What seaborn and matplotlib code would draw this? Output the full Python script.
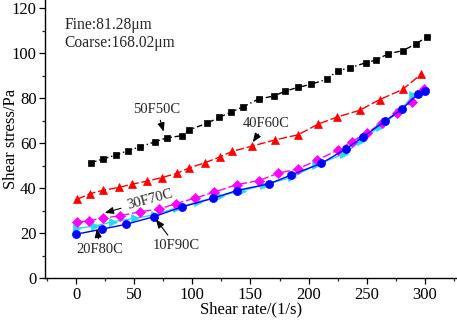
import matplotlib
matplotlib.use("Agg")
import matplotlib.pyplot as plt
import seaborn as sns
import pandas as pd
from matplotlib.ticker import MultipleLocator

# ---- data ----
x_50F50C = [13, 23, 34, 45, 55, 68, 78, 91, 97, 113, 123, 133, 144, 157, 170, 180, 191, 202, 216, 225, 236, 249, 258, 268, 281, 292, 302]
y_50F50C = [51.4, 53, 54.8, 56.8, 58.4, 60.7, 62.4, 63.4, 65.9, 69, 71.5, 73.8, 76.3, 79.7, 81, 83.2, 84.9, 86.2, 88.6, 92.3, 93.6, 95.8, 97, 99.7, 101.2, 104.1, 107.4]

x_40F60C = [1, 12, 23, 37, 48, 61, 74, 87, 97, 111, 124, 134, 151, 171, 191, 208, 224, 244, 261, 281, 297]
y_40F60C = [35.1, 37.6, 39.1, 40.4, 41.8, 43.2, 44.8, 46.7, 49, 51.4, 54, 56.4, 58.7, 61.5, 63.8, 68.5, 71.6, 74.7, 79.4, 84, 90.8]

x_30F70C = [1, 11, 23, 38, 55, 71, 86, 102, 119, 138, 157, 174, 191, 207, 225, 237, 250, 263, 276, 289, 299]
y_30F70C = [24.9, 25.6, 26.7, 27.8, 29.6, 30.7, 33.2, 35.6, 38.3, 41.6, 43.4, 46.7, 48.7, 52.4, 57, 60.7, 64.5, 69.2, 73.3, 78.5, 84]

x_20F80C = [1, 16, 32, 51, 68, 87, 105, 124, 143, 162, 186, 206, 230, 245, 261, 278, 290, 299]
y_20F80C = [22.2, 23.2, 25.2, 26.7, 28.3, 31.4, 34, 36.5, 39, 41.5, 45, 50.3, 55.2, 61, 67.4, 74, 81.5, 83]

x_10F90C = [0, 22, 43, 67, 91, 118, 138, 166, 185, 211, 232, 247, 266, 280, 294, 300]
y_10F90C = [19.6, 21.8, 24, 27.4, 31.7, 35.6, 39, 42, 45.9, 51.1, 57.5, 62.9, 70, 75.1, 81.8, 83.4]

series_names = ["50F50C", "40F60C", "30F70C", "20F80C", "10F90C"]
note_lines = ["Fine:81.28\u03bcm", "Coarse:168.02\u03bcm"]
x_label = "Shear rate/(1/s)"
y_label = "Shear stress/Pa"

frames = []
for name, xs, ys in zip(series_names,
                        [x_50F50C, x_40F60C, x_30F70C, x_20F80C, x_10F90C],
                        [y_50F50C, y_40F60C, y_30F70C, y_20F80C, y_10F90C]):
    frames.append(pd.DataFrame({"rate": xs, "stress": ys, "sample": name}))
df = pd.concat(frames, ignore_index=True)

sns.set_theme(style="ticks")
plt.rcParams["font.family"] = ["Liberation Serif", "DejaVu Serif"]

fig = plt.figure(figsize=(4.57, 3.21), dpi=100)
ax = fig.add_axes([45 / 457, (321 - 278.3) / 321, 1 - 45 / 457, 278.3 / 321])

styles = {
    "50F50C": dict(color="black", marker="s", markersize=4.8, dashes=(4, 2, 1, 2)),
    "40F60C": dict(color="#FF0000", marker="^", markersize=6.2, dashes=(6, 2)),
    "30F70C": dict(color="#FF00FF", marker="D", markersize=4.8, dashes=(6, 2)),
    "20F80C": dict(color="#22DDF2", marker=">", markersize=6.2, dashes=None),
    "10F90C": dict(color="#0000FF", marker="o", markersize=5.8, dashes=None),
}
order = ["50F50C", "40F60C", "20F80C", "30F70C", "10F90C"]
for name in order:
    st = styles[name]
    sub = df[df["sample"] == name]
    kw = dict(linewidth=1.0, markeredgewidth=0.5, markeredgecolor=st["color"])
    if st["dashes"] is not None:
        kw["dashes"] = st["dashes"]
    else:
        kw["linestyle"] = "-"
    sns.lineplot(data=sub, x="rate", y="stress", ax=ax, estimator=None, sort=False,
                 legend=False, color=st["color"], marker=st["marker"],
                 markersize=st["markersize"], **kw)

ax.set_xlim(-26.7, 327.6)
ax.set_ylim(0, 123.7)
ax.xaxis.set_major_locator(MultipleLocator(50))
ax.xaxis.set_minor_locator(MultipleLocator(25))
ax.yaxis.set_major_locator(MultipleLocator(20))
ax.yaxis.set_minor_locator(MultipleLocator(10))
ax.tick_params(which="major", direction="out", length=4, width=0.9, labelsize=12, colors="black", pad=2)
ax.tick_params(which="minor", direction="out", length=2.5, width=0.9)
for s in ["top", "right"]:
    ax.spines[s].set_visible(False)
for s in ["left", "bottom"]:
    ax.spines[s].set_linewidth(1.0)
    ax.spines[s].set_color("black")

ax.set_xlabel(x_label, fontsize=12, color="black", va="center")
ax.set_ylabel(y_label, fontsize=12, color="black", va="center")
ax.yaxis.set_label_coords(-0.083, 0.5)
ax.xaxis.set_label_coords(0.5, -0.112)

ax.text(-10.3, 112.6, note_lines[0], fontsize=11.2, va="center", ha="left")
ax.text(-10.3, 104.6, note_lines[1], fontsize=11.2, va="center", ha="left")

arrow = dict(arrowstyle="-|>,head_length=0.5,head_width=0.2", color="black", lw=0.8,
             shrinkA=1, shrinkB=1)
ann_fs = 10.5
ax.annotate(series_names[0], xy=(75.7, 64.6), xytext=(69.6, 75.2), fontsize=ann_fs,
            ha="center", va="center", arrowprops=arrow)
ax.annotate(series_names[1], xy=(151.3, 60.0), xytext=(163.4, 69.0), fontsize=ann_fs,
            ha="center", va="center", arrowprops=arrow)
ax.annotate(series_names[2], xy=(23.5, 28.9), xytext=(63.6, 34.8), fontsize=ann_fs,
            ha="center", va="center", rotation=15, arrowprops=arrow)
ax.annotate(series_names[3], xy=(17.8, 22.7), xytext=(20.6, 12.6), fontsize=ann_fs,
            ha="center", va="center", arrowprops=arrow)
ax.annotate(series_names[4], xy=(67.9, 26.7), xytext=(86.0, 14.4), fontsize=ann_fs,
            ha="center", va="center", arrowprops=arrow)

fig.savefig("out.png", dpi=100)
